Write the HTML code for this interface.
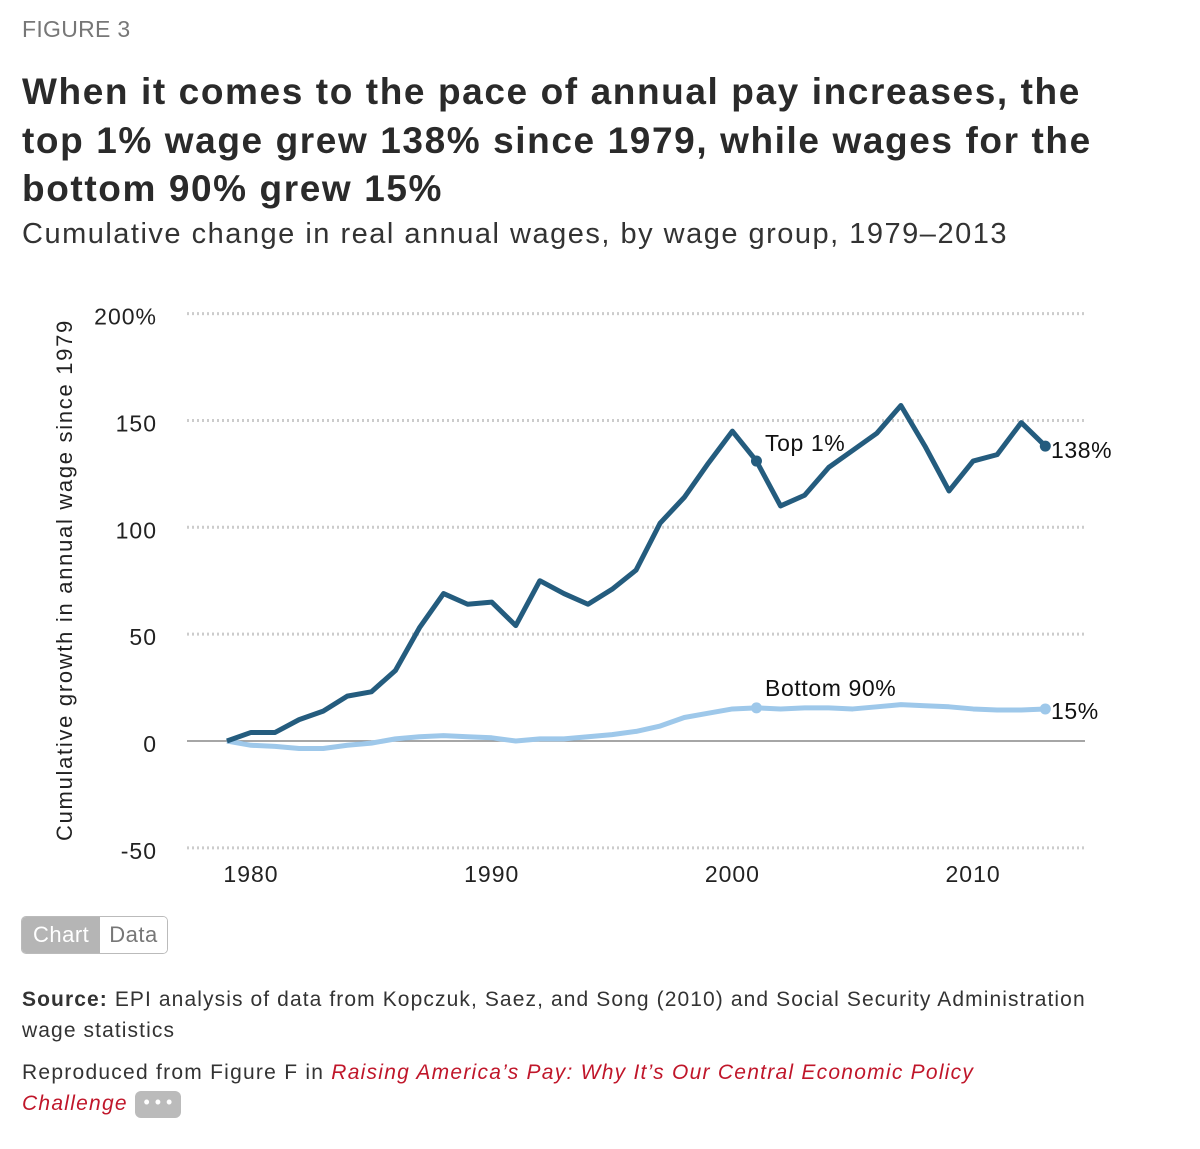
<!DOCTYPE html>
<html><head><meta charset="utf-8">
<style>
body{margin:0;width:1200px;height:1149px;background:#fff;font-family:"Liberation Sans",sans-serif;color:#222;position:relative;overflow:hidden}
.abs{position:absolute;white-space:nowrap}
</style></head><body>
<div class="abs" style="left:22px;top:16px;font-size:23px;color:#777;letter-spacing:0.3px">FIGURE 3</div>
<div class="abs" style="left:22px;top:68px;font-size:37px;font-weight:bold;line-height:48.5px;color:#2a2a2a;letter-spacing:1.6px">When it comes to the pace of annual pay increases, the<br>top 1% wage grew 138% since 1979, while wages for the<br>bottom 90% grew 15%</div>
<div class="abs" style="left:22px;top:218px;font-size:29px;color:#333;letter-spacing:1.5px">Cumulative change in real annual wages, by wage group, 1979–2013</div>
<svg class="abs" style="left:0;top:0" width="1200" height="900" id="chart"></svg>
<div class="abs" style="left:21px;top:916px;height:36px;border:1px solid #bbb;border-radius:5px;overflow:hidden;display:flex;font-size:22px;letter-spacing:0.5px">
<div style="background:#b5b5b5;color:#fff;padding:0 11px;line-height:36px">Chart</div>
<div style="background:#fff;color:#777;padding:0 9px;line-height:36px">Data</div></div>
<div class="abs" style="left:22px;top:984px;font-size:21px;line-height:31px;color:#333;letter-spacing:1.1px"><b>Source:</b> EPI analysis of data from Kopczuk, Saez, and Song (2010) and Social Security Administration<br>wage statistics</div>
<div class="abs" style="left:22px;top:1057px;font-size:21px;line-height:31px;color:#333;letter-spacing:1.25px">Reproduced from Figure F in <i style="color:#c0162a">Raising America’s Pay: Why It’s Our Central Economic Policy</i><br><i style="color:#c0162a">Challenge</i> <span style="display:inline-block;width:46px;height:27px;background:#bbb;border-radius:6px;vertical-align:middle;color:#fff;text-align:center;line-height:22px;font-size:18px;letter-spacing:0">• • •</span></div>
<script>
const years=[1979,1980,1981,1982,1983,1984,1985,1986,1987,1988,1989,1990,1991,1992,1993,1994,1995,1996,1997,1998,1999,2000,2001,2002,2003,2004,2005,2006,2007,2008,2009,2010,2011,2012,2013];
const top1=[0,4,4,10,14,21,23,33,53,69,64,65,54,75,69,64,71,80,102,114,130,145,131,110,115,128,136,144,157,138,117,131,134,149,138];
const bottom90=[0,-2,-2.5,-3.5,-3.5,-2,-1,1,2,2.5,2,1.5,0,1,1,2,3,4.5,7,11,13,15,15.5,15,15.5,15.5,15,16,17,16.5,16,15,14.5,14.5,15];
const yTicks=[200,150,100,50,0,-50];
const yTickLabels=["200%","150","100","50","0","-50"];
const xTicks=[1980,1990,2000,2010];
const NS="http://www.w3.org/2000/svg";
const svg=document.getElementById('chart');
const X=y=>251+(y-1980)*24.07;
const Y=v=>741-v*2.137;
function mk(t,a,p){const e=document.createElementNS(NS,t);for(const k in a)e.setAttribute(k,a[k]);(p||svg).appendChild(e);return e;}
yTicks.forEach((v,i)=>{
 const g=mk('line',{x1:187,x2:1085,y1:Y(v),y2:Y(v),stroke:v===0?'#888':'#ccc','stroke-width':v===0?1.5:3,'stroke-dasharray':v===0?'':'2,3'});
 
 
 const t=mk('text',{x:157,y:Y(v)+11,'text-anchor':'end','font-size':23,fill:'#222','letter-spacing':1});t.textContent=yTickLabels[i];
 
 
});
xTicks.forEach(v=>{
 const t=mk('text',{x:X(v),y:882,'text-anchor':'middle','font-size':23,fill:'#222','letter-spacing':1});t.textContent=v;
 
 
});
const yt=mk('text',{transform:'translate(72,580) rotate(-90)','text-anchor':'middle','font-size':22,fill:'#222','letter-spacing':1.7});
yt.textContent='Cumulative growth in annual wage since 1979';


function series(vals,color,name){
 const p=mk('polyline',{points:vals.map((v,i)=>X(years[i])+','+Y(v)).join(' '),fill:'none',stroke:color,'stroke-width':5,'stroke-linejoin':'round'});
 
 
 [22,34].forEach(i=>{const c=mk('circle',{cx:X(years[i]),cy:Y(vals[i]),r:5.5,fill:color});
 
 });
}
series(bottom90,'#9ec8ea','bottom-90-line');
series(top1,'#245c7e','top-1-line');
function lab(x,y,txt,name){const t=mk('text',{x:x,y:y,'font-size':23,fill:'#111','letter-spacing':0.6});t.textContent=txt;
 
 }
lab(765,451,'Top 1%','top-1-label');
lab(765,696,'Bottom 90%','bottom-90-label');
lab(1051,458,Math.round(top1[34])+'%','top-1-end-value');
lab(1051,719,Math.round(bottom90[34])+'%','bottom-90-end-value');
</script>
</body></html>
